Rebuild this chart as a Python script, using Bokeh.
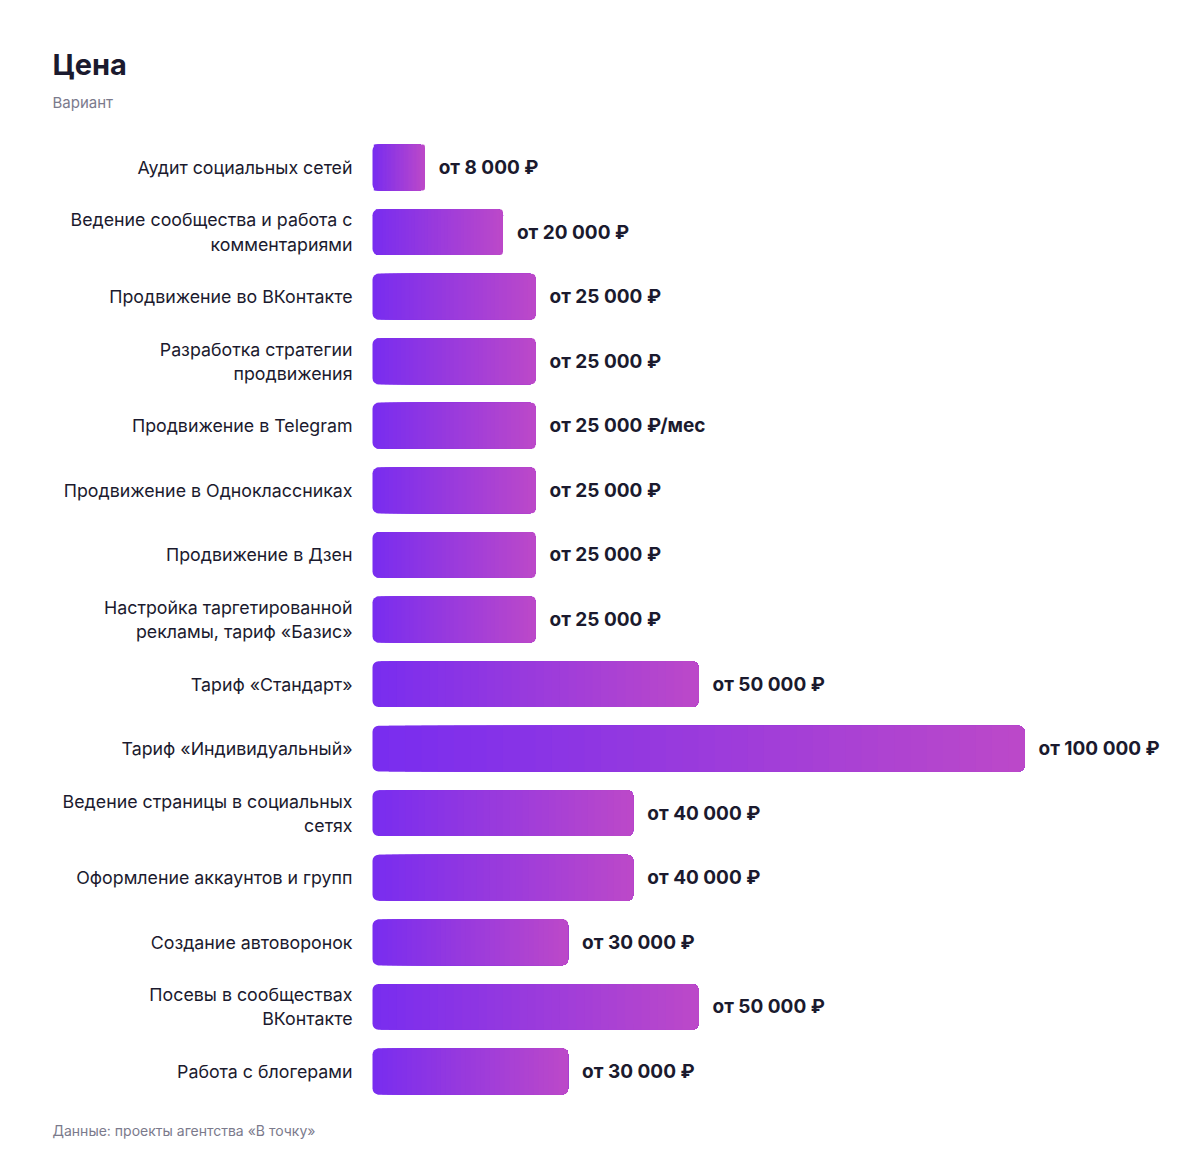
import numpy as np
from bokeh.plotting import figure
from bokeh.models import Range1d, Label, ColumnDataSource
from bokeh.core.properties import value
from bokeh.embed import file_html
from bokeh.resources import INLINE

title_text = "Цена"
subtitle_text = "Вариант"
source_text = "Данные: проекты агентства «В точку»"

categories = [
    "Аудит социальных сетей",
    "Ведение сообщества и работа с\nкомментариями",
    "Продвижение во ВКонтакте",
    "Разработка стратегии\nпродвижения",
    "Продвижение в Telegram",
    "Продвижение в Одноклассниках",
    "Продвижение в Дзен",
    "Настройка таргетированной\nрекламы, тариф «Базис»",
    "Тариф «Стандарт»",
    "Тариф «Индивидуальный»",
    "Ведение страницы в социальных\nсетях",
    "Оформление аккаунтов и групп",
    "Создание автоворонок",
    "Посевы в сообществах\nВКонтакте",
    "Работа с блогерами",
]
prices = [8000, 20000, 25000, 25000, 25000, 25000, 25000, 25000,
          50000, 100000, 40000, 40000, 30000, 50000, 30000]
price_labels = ["от 8 000 ₽", "от 20 000 ₽", "от 25 000 ₽", "от 25 000 ₽",
                "от 25 000 ₽/мес", "от 25 000 ₽", "от 25 000 ₽", "от 25 000 ₽",
                "от 50 000 ₽", "от 100 000 ₽", "от 40 000 ₽", "от 40 000 ₽",
                "от 30 000 ₽", "от 50 000 ₽", "от 30 000 ₽"]

# ---- layout constants (pixels, canvas coordinates) ----
W, H = 1184, 1144
PX_PER_UNIT = 652 / 100000      # bar length scale
X0 = 372                        # canvas x of value 0
ROW_PITCH = 64.57
ROW0 = 167                      # canvas y of first row centre
FONT = "Inter"
DARK = "#1b1a2e"
GREY = "#7b7a8c"
C_LEFT = np.array([121, 45, 239])
C_RIGHT = np.array([189, 73, 200])
NSLICE = 40

x_start = -X0 / PX_PER_UNIT
x_end = x_start + W / PX_PER_UNIT
y_top = -ROW0 / ROW_PITCH
y_bot = y_top + H / ROW_PITCH

p = figure(width=W, height=H, output_backend="svg", toolbar_location=None,
           x_axis_type=None, y_axis_type=None,
           x_range=Range1d(x_start, x_end), y_range=Range1d(y_bot, y_top),
           min_border=0, outline_line_color=None, background_fill_color="white",
           border_fill_color="white")
p.grid.visible = False

rows = list(range(len(categories)))

def hexcol(t):
    c = (C_LEFT + (C_RIGHT - C_LEFT) * t).round().astype(int)
    return "#%02x%02x%02x" % tuple(c)

# gradient bars: first slice full radius, later slices rounded on right only
base = ColumnDataSource(dict(y=rows, left=[0] * len(rows), right=prices,
                             color=[hexcol(0.0)] * len(rows)))
p.hbar(y="y", left="left", right="right", height=0.71, source=base,
       fill_color="color", line_color=None, border_radius=6)

ys, ls, rs, cs = [], [], [], []
for k in range(1, NSLICE):
    t = k / NSLICE
    for i, v in enumerate(prices):
        ys.append(i)
        ls.append(v * t)
        rs.append(v)
        cs.append(hexcol(t))
grad = ColumnDataSource(dict(y=ys, left=ls, right=rs, color=cs))
p.hbar(y="y", left="left", right="right", height=0.71, source=grad,
       fill_color="color", line_color=None, border_radius=(0, 6, 6, 0))

# category labels
cat_src = ColumnDataSource(dict(y=rows, x=[0] * len(rows), text=categories))
p.text(x="x", y="y", text="text", source=cat_src, x_offset=-20,
       text_align="right", text_baseline="middle", text_font=value(FONT),
       text_font_size="17.8px", text_color=DARK, text_line_height=1.15)

# value labels
val_src = ColumnDataSource(dict(y=rows, x=prices, text=price_labels))
p.text(x="x", y="y", text="text", source=val_src, x_offset=14,
       text_align="left", text_baseline="middle", text_font=value(FONT),
       text_font_size="19px", text_font_style="bold", text_color=DARK)

# title, subtitle, source
p.add_layout(Label(x=52, y=H - 64, x_units="screen", y_units="screen",
                   text=title_text, text_font=FONT, text_font_size="29px",
                   text_font_style="bold", text_color=DARK,
                   text_baseline="alphabetic"))
p.add_layout(Label(x=52, y=H - 102, x_units="screen", y_units="screen",
                   text=subtitle_text, text_font=FONT, text_font_size="15px",
                   text_color=GREY, text_baseline="alphabetic"))
p.add_layout(Label(x=52, y=H - 1130, x_units="screen", y_units="screen",
                   text=source_text, text_font=FONT, text_font_size="14px",
                   text_color=GREY, text_baseline="alphabetic"))

open("out.html", "w").write(file_html(p, INLINE))
